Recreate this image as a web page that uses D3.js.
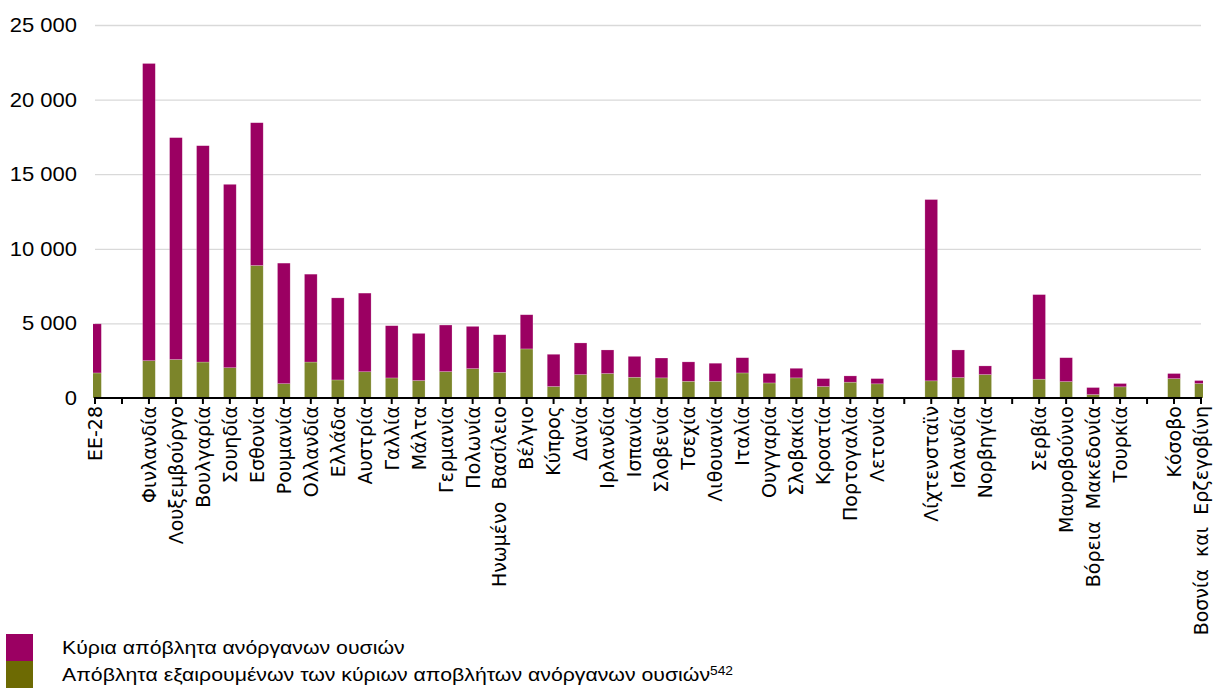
<!DOCTYPE html>
<html>
<head>
<meta charset="utf-8">
<script src="https://cdn.jsdelivr.net/npm/d3@7"></script>
<style>
    body { margin: 0; background: #fff; }
    svg { display: block; }
    .ylab { font-family: "Liberation Sans", Arial, sans-serif; font-size: 20px; fill: #000; }
    .xlab { font-family: "DejaVu Sans", sans-serif; font-size: 19px; fill: #000; white-space: pre; }
    .leg { font-family: "Liberation Sans", Arial, sans-serif; font-size: 18.5px; fill: #000; }
</style>
</head>
<body>
<svg id="chart" width="1213" height="688"></svg>
<script>
// categories, "" = empty slot between country groups
const countries = ['ΕΕ-28', '', 'Φινλανδία', 'Λουξεμβούργο', 'Βουλγαρία', 'Σουηδία', 'Εσθονία', 'Ρουμανία',
    'Ολλανδία', 'Ελλάδα', 'Αυστρία', 'Γαλλία', 'Μάλτα', 'Γερμανία', 'Πολωνία', 'Ηνωμένο  Βασίλειο', 'Βέλγιο',
    'Κύπρος', 'Δανία', 'Ιρλανδία', 'Ισπανία', 'Σλοβενία', 'Τσεχία', 'Λιθουανία', 'Ιταλία', 'Ουγγαρία',
    'Σλοβακία', 'Κροατία', 'Πορτογαλία', 'Λετονία', '', 'Λίχτενσταϊν', 'Ισλανδία', 'Νορβηγία', '',
    'Σερβία', 'Μαυροβούνιο', 'Βόρεια  Μακεδονία', 'Τουρκία', '', 'Κόσοβο', 'Βοσνία  και  Ερζεγοβίνη'];
// kg per inhabitant
const majorMineral = [3290, 0, 19920, 14870, 14500, 12290, 9570, 8080, 5890, 5500, 5270, 3500, 3160, 3120,
    2830, 2520, 2290, 2160, 2120, 1580, 1400, 1330, 1300, 1210, 1020, 630, 640, 530, 420, 350, 0,
    12150, 1850, 580, 0, 5670, 1600, 470, 220, 0, 340, 200];
const otherWaste = [1680, 0, 2500, 2580, 2410, 2030, 8880, 960, 2410, 1210, 1760, 1345, 1170, 1770,
    1970, 1720, 3290, 770, 1570, 1640, 1390, 1350, 1120, 1120, 1680, 1010, 1350, 770, 1060, 950, 0,
    1150, 1370, 1570, 0, 1260, 1100, 230, 750, 0, 1300, 970];
const yTicks = [0, 5000, 10000, 15000, 20000, 25000];
const seriesNames = ['Κύρια απόβλητα ανόργανων ουσιών', 'Απόβλητα εξαιρουμένων των κύριων αποβλήτων ανόργανων ουσιών'];

const colors = {major: '#9b0062', other: '#7c852a', otherLegend: '#6d6a03'};

const svg = d3.select('#chart');
const margin = {left: 95, right: 12, top: 25, bottom: 290};
const W = 1213, H = 688;

const rows = countries.map((c, i) => ({i: i, name: c, other: otherWaste[i], major: majorMineral[i]}));

const x = d3.scalePoint().domain(rows.map(d => d.i)).range([margin.left, W - margin.right]);
const y = d3.scaleLinear().domain([0, 25000]).range([H - margin.bottom, margin.top]);
const bw = x.step() * 0.47;

// gridlines
svg.append('g').selectAll('line').data(yTicks.filter(t => t > 0)).join('line')
    .attr('x1', margin.left).attr('x2', W - margin.right)
    .attr('y1', d => y(d) + 0.5).attr('y2', d => y(d) + 0.5)
    .attr('stroke', '#d9d9d9').attr('stroke-width', 1.3);

// y labels
const fmt = v => d3.format(',')(v).replace(/,/g, ' ');
svg.append('g').selectAll('text').data(yTicks).join('text')
    .attr('class', 'ylab')
    .attr('text-anchor', 'end')
    .attr('transform', d => `translate(77,${y(d) + 7}) scale(1.1,1)`)
    .text(fmt);

// bars
svg.append('clipPath').attr('id', 'plotClip').append('rect')
    .attr('x', margin.left - 2).attr('y', 0).attr('width', W - margin.right - margin.left + 4).attr('height', H);

const stack = d3.stack().keys(['other', 'major'])(rows.filter(d => d.name !== ''));
svg.append('g').attr('clip-path', 'url(#plotClip)')
    .selectAll('g').data(stack).join('g')
    .attr('fill', d => d.key === 'major' ? colors.major : colors.other)
    .selectAll('rect').data(d => d).join('rect')
    .attr('x', d => x(d.data.i) - bw / 2)
    .attr('width', bw)
    .attr('y', d => y(d[1]))
    .attr('height', d => y(d[0]) - y(d[1]))
    .attr('stroke', 'rgba(255,255,255,0.35)').attr('stroke-width', 0.6);

// x axis
const xAxis = svg.append('g').attr('transform', `translate(0,${y(0)})`);
xAxis.append('line').attr('x1', margin.left - 1).attr('x2', W - margin.right + 1)
    .attr('stroke', '#000').attr('stroke-width', 2.2);
xAxis.selectAll('line.tick').data(rows).join('line').attr('class', 'tick')
    .attr('x1', d => x(d.i)).attr('x2', d => x(d.i))
    .attr('y1', 0).attr('y2', 6)
    .attr('stroke', '#000').attr('stroke-width', 2);
xAxis.selectAll('text').data(rows.filter(d => d.name !== '')).join('text')
    .attr('class', 'xlab')
    .attr('text-anchor', 'end')
    .attr('transform', d => `translate(${x(d.i)},8) rotate(-90)`)
    .attr('dy', '0.36em')
    .text(d => d.name);

// legend
const leg = svg.append('g').attr('transform', 'translate(6,634)');
const legItems = [{name: seriesNames[0], color: colors.major}, {name: seriesNames[1], color: colors.otherLegend, sup: '542'}];
const li = leg.selectAll('g').data(legItems).join('g')
    .attr('transform', (d, i) => `translate(0,${i * 27})`);
li.append('rect').attr('width', 27).attr('height', 27).attr('fill', d => d.color);
const lt = li.append('text').attr('class', 'leg').attr('transform', 'translate(56,20) scale(1.15,1)');
lt.append('tspan').text(d => d.name);
lt.filter(d => d.sup).append('tspan').attr('dy', -6).style('font-size', '12px').text(d => d.sup);
</script>
</body>
</html>
